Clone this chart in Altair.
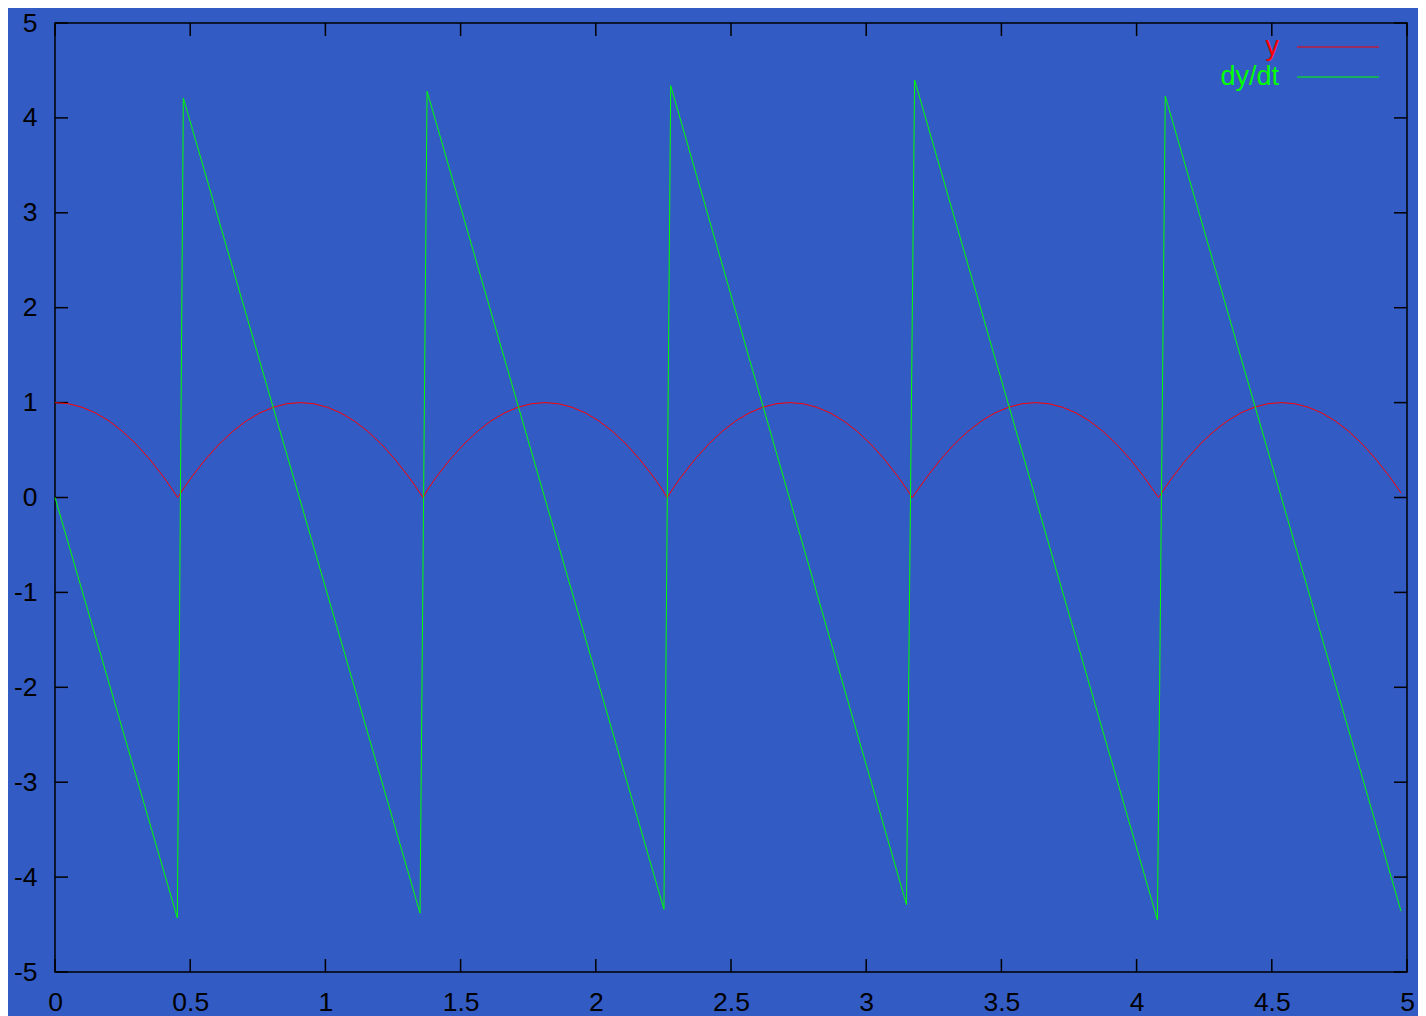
import altair as alt
import pandas as pd

# ---- data ----
# y : bouncing height (red)
y_t = [0.0, 0.05, 0.1, 0.15, 0.2, 0.25, 0.3, 0.35, 0.4, 0.43, 0.4535,
       0.477, 0.507, 0.557, 0.607, 0.657, 0.707, 0.757, 0.807, 0.857, 0.907,
       0.957, 1.007, 1.057, 1.107, 1.157, 1.207, 1.257, 1.307, 1.337, 1.361,
       1.382, 1.412, 1.462, 1.512, 1.562, 1.612, 1.662, 1.712, 1.762, 1.812,
       1.862, 1.912, 1.962, 2.012, 2.062, 2.112, 2.162, 2.212, 2.242, 2.264,
       2.287, 2.317, 2.367, 2.417, 2.467, 2.517, 2.567, 2.617, 2.667, 2.717,
       2.767, 2.817, 2.867, 2.917, 2.967, 3.017, 3.067, 3.117, 3.147, 3.170,
       3.196, 3.226, 3.276, 3.326, 3.376, 3.426, 3.476, 3.526, 3.576, 3.626,
       3.676, 3.726, 3.776, 3.826, 3.876, 3.926, 3.976, 4.026, 4.056, 4.081,
       4.105, 4.135, 4.185, 4.235, 4.285, 4.335, 4.385, 4.435, 4.485, 4.535,
       4.585, 4.635, 4.685, 4.735, 4.785, 4.835, 4.885, 4.935, 4.965, 4.978]
y_val = [1.0, 0.988, 0.951, 0.891, 0.806, 0.696, 0.562, 0.404, 0.222, 0.101, 0.0,
         0.101, 0.222, 0.404, 0.562, 0.696, 0.806, 0.891, 0.951, 0.988, 1.0,
         0.988, 0.951, 0.891, 0.806, 0.696, 0.562, 0.404, 0.222, 0.101, 0.0,
         0.101, 0.222, 0.404, 0.562, 0.696, 0.806, 0.891, 0.951, 0.988, 1.0,
         0.988, 0.951, 0.891, 0.806, 0.696, 0.562, 0.404, 0.222, 0.101, 0.0,
         0.101, 0.222, 0.404, 0.562, 0.696, 0.806, 0.891, 0.951, 0.988, 1.0,
         0.988, 0.951, 0.891, 0.806, 0.696, 0.562, 0.404, 0.222, 0.101, 0.0,
         0.101, 0.222, 0.404, 0.562, 0.696, 0.806, 0.891, 0.951, 0.988, 1.0,
         0.988, 0.951, 0.891, 0.806, 0.696, 0.562, 0.404, 0.222, 0.101, 0.0,
         0.101, 0.222, 0.404, 0.562, 0.696, 0.806, 0.891, 0.951, 0.988, 1.0,
         0.988, 0.951, 0.891, 0.806, 0.696, 0.562, 0.404, 0.222, 0.101, 0.046]

# dy/dt : velocity (green), sawtooth vertices
v_t = [0.0, 0.4525, 0.4746, 1.350, 1.376, 2.252, 2.277, 3.149, 3.179, 4.077, 4.106, 4.978]
v_val = [0.0, -4.43, 4.21, -4.38, 4.28, -4.34, 4.34, -4.29, 4.40, -4.45, 4.23, -4.36]

x_ticks = [0, 0.5, 1, 1.5, 2, 2.5, 3, 3.5, 4, 4.5, 5]
y_ticks = [-5, -4, -3, -2, -1, 0, 1, 2, 3, 4, 5]

legend_labels = ["y", "dy/dt"]
legend_colors = ["#ff0000", "#00ff00"]

BG = "#335bc4"
FONT = "Liberation Sans"
W, H = 1352, 949
FS = 26.5

xs = alt.Scale(domain=[0, 5], nice=False, zero=False)
ys = alt.Scale(domain=[-5, 5], nice=False, zero=False)

xaxis = alt.Axis(values=x_ticks, labelExpr="'' + datum.value", ticks=False, tickSize=0,
                 domain=False, grid=False, labelPadding=17, labelFlush=False,
                 labelOverlap=False, title=None)
yaxis = alt.Axis(values=y_ticks, labelExpr="'' + datum.value", ticks=False, tickSize=0,
                 domain=False, grid=False, labelPadding=18, labelFlush=False,
                 labelOverlap=False, title=None)

df_y = pd.DataFrame({"t": y_t, "v": y_val})
df_v = pd.DataFrame({"t": v_t, "v": v_val})

red = alt.Chart(df_y).mark_line(color=legend_colors[0], strokeWidth=1).encode(
    x=alt.X("t:Q", scale=xs, axis=xaxis),
    y=alt.Y("v:Q", scale=ys, axis=yaxis),
)
green = alt.Chart(df_v).mark_line(color=legend_colors[1], strokeWidth=1).encode(
    x=alt.X("t:Q", scale=xs, axis=xaxis),
    y=alt.Y("v:Q", scale=ys, axis=yaxis),
)

df_xt = pd.DataFrame({"t": x_ticks})
df_yt = pd.DataFrame({"v": y_ticks})
TL = 13
bottom_ticks = alt.Chart(df_xt).mark_rule(color="black", strokeWidth=1.5).encode(
    x=alt.X("t:Q", scale=xs, axis=xaxis), y=alt.value(H), y2=alt.value(H - TL))
top_ticks = alt.Chart(df_xt).mark_rule(color="black", strokeWidth=1.5).encode(
    x=alt.X("t:Q", scale=xs, axis=xaxis), y=alt.value(0), y2=alt.value(TL))
left_ticks = alt.Chart(df_yt).mark_rule(color="black", strokeWidth=1.5).encode(
    y=alt.Y("v:Q", scale=ys, axis=yaxis), x=alt.value(0), x2=alt.value(TL))
right_ticks = alt.Chart(df_yt).mark_rule(color="black", strokeWidth=1.5).encode(
    y=alt.Y("v:Q", scale=ys, axis=yaxis), x=alt.value(W), x2=alt.value(W - TL))

legend_layers = []
for i, (lab, col) in enumerate(zip(legend_labels, legend_colors)):
    base_y = 32 + 30 * i
    legend_layers.append(
        alt.Chart(df_xt.head(1)).mark_text(
            align="right", baseline="alphabetic", font=FONT, fontSize=27, color=col
        ).encode(x=alt.value(1224), y=alt.value(base_y), text=alt.value(lab))
    )
    legend_layers.append(
        alt.Chart(df_xt.head(1)).mark_rule(color=col, strokeWidth=1).encode(
            x=alt.value(1242), x2=alt.value(1324), y=alt.value(base_y - 8))
    )

chart = alt.layer(
    bottom_ticks, top_ticks, left_ticks, right_ticks,
    red, green, *legend_layers
).properties(
    width=W, height=H,
    autosize=alt.AutoSizeParams(type="none"),
    padding={"left": 47, "top": 15, "right": 11, "bottom": 44},
).configure(
    background=BG, font=FONT
).configure_view(
    stroke="black", strokeWidth=1.5, fill=BG
).configure_axis(
    labelFont=FONT, labelFontSize=FS, labelColor="black"
)

chart.save("out.html", embed_options={"renderer": "svg", "actions": False})
